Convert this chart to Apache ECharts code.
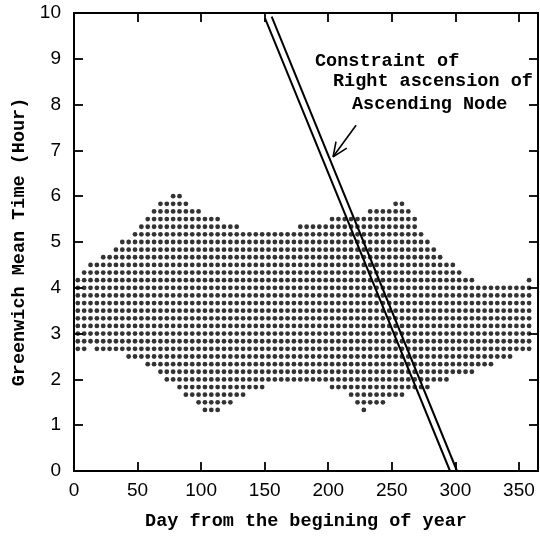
<!DOCTYPE html>
<html>
<head>
<meta charset="utf-8">
<script src="https://cdn.jsdelivr.net/npm/echarts@6/dist/echarts.min.js"></script>
<style>
html,body{margin:0;padding:0;background:#fff;}
#chart{width:540px;height:537px;}
</style>
</head>
<body>
<div id="chart"></div>
<script>
// Column days (sampling every ~5 days)
var colDays = [3,8,13,18,23,28,33,38,43,48,53,58,63,68,73,78,83,88,93,98,
  103,108,113,118,123,128,133,138,143,148,153,158,163,168,173,178,183,188,193,198,
  203,208,213,218,223,228,233,238,243,248,253,258,263,268,273,278,283,288,293,298,
  303,308,313,318,323,328,333,338,343,348,353,358];
// Upper edge of the feasible window per column, in minutes GMT
var hiMin = [250,260,270,270,280,280,290,300,300,310,320,330,340,350,350,360,360,350,340,340,
  330,330,330,320,320,320,310,310,310,310,310,310,310,310,310,320,320,320,320,320,
  330,330,330,330,330,330,340,340,340,340,350,350,340,330,310,300,290,280,270,270,
  260,250,250,240,240,240,240,240,240,240,240,250];
// Lower edge of the feasible window per column, in minutes GMT
var loMin = [160,160,170,160,160,160,160,160,150,150,150,140,140,130,120,120,110,100,100,90,
  80,80,80,90,90,100,100,110,110,110,120,120,120,120,120,120,120,120,120,120,
  110,110,110,100,90,80,90,90,90,100,100,100,110,110,110,110,120,120,120,130,
  130,130,130,140,140,140,150,150,150,160,160,160];
var stepMin = 10;
// Constraint lines (day, hour)
var lineA = [[150.3, 9.88], [295.8, 0]];
var lineB = [[155.5, 9.92], [301.3, 0]];
// Arrow (day, hour)
var arrowShaft = [[221.9, 7.55], [203.8, 6.86]];
var arrowHead = [[206.1, 7.19], [203.8, 6.86], [214.6, 7.05]];
var xTicks = [0,50,100,150,200,250,300,350];
var annotation = ['Constraint of', 'Right ascension of', 'Ascending Node'];

var dots = [];
for (var i = 0; i < colDays.length; i++) {
  for (var m = loMin[i]; m <= hiMin[i]; m += stepMin) {
    dots.push([colDays[i], m / 60]);
  }
}

var titleFont = 'Liberation Mono';
var chart = echarts.init(document.getElementById('chart'), null, {renderer: 'canvas'});
var axisLineStyle = {color: '#000', width: 2};
var tickStyle = {color: '#000', width: 1.8};
var option = {
  animation: false,
  backgroundColor: '#fff',
  grid: {left: 74, right: 2, top: 13, bottom: 66, containLabel: false},
  xAxis: [{
    type: 'value', min: 0, max: 365, interval: 50,
    name: 'Day from the begining of year', nameLocation: 'middle', nameGap: 41,
    nameTextStyle: {fontFamily: titleFont, fontWeight: 'bold', fontSize: 18.5, color: '#000'},
    axisLine: {show: true, onZero: false, lineStyle: axisLineStyle},
    axisTick: {show: true, inside: true, length: 9, lineStyle: tickStyle},
    axisLabel: {color: '#000', fontFamily: 'Liberation Sans', fontSize: 19, margin: 10,
      showMaxLabel: false,
      formatter: function (v) { return xTicks.indexOf(v) >= 0 ? String(v) : ''; }},
    splitLine: {show: false}
  }, {
    type: 'value', min: 0, max: 365, interval: 50, position: 'top',
    axisLine: {show: true, onZero: false, lineStyle: axisLineStyle},
    axisTick: {show: true, inside: true, length: 9, lineStyle: tickStyle},
    axisLabel: {show: false}, splitLine: {show: false}
  }],
  yAxis: [{
    type: 'value', min: 0, max: 10, interval: 1,
    name: 'Greenwich Mean Time (Hour)', nameLocation: 'middle', nameGap: 43, nameRotate: 90,
    nameTextStyle: {fontFamily: titleFont, fontWeight: 'bold', fontSize: 18.5, color: '#000'},
    axisLine: {show: true, onZero: false, lineStyle: axisLineStyle},
    axisTick: {show: true, inside: true, length: 9, lineStyle: tickStyle},
    axisLabel: {color: '#000', fontFamily: 'Liberation Sans', fontSize: 19, margin: 13},
    splitLine: {show: false}
  }, {
    type: 'value', min: 0, max: 10, interval: 1, position: 'right',
    axisLine: {show: true, onZero: false, lineStyle: axisLineStyle},
    axisTick: {show: true, inside: true, length: 9, lineStyle: tickStyle},
    axisLabel: {show: false}, splitLine: {show: false}
  }],
  series: [{
    type: 'scatter', data: dots, symbol: 'circle', symbolSize: 4.8,
    itemStyle: {color: '#000'}, silent: true
  }, {
    type: 'line', data: lineA, showSymbol: false, symbol: 'none',
    lineStyle: {color: '#000', width: 2}, silent: true
  }, {
    type: 'line', data: lineB, showSymbol: false, symbol: 'none',
    lineStyle: {color: '#000', width: 2}, silent: true
  }, {
    type: 'line', data: arrowShaft, showSymbol: false, symbol: 'none',
    lineStyle: {color: '#000', width: 1.6}, silent: true
  }, {
    type: 'line', data: arrowHead, showSymbol: false, symbol: 'none',
    lineStyle: {color: '#000', width: 1.6}, silent: true
  }],
  graphic: [
    {type: 'text', x: 315, y: 61, style: {text: annotation[0], fill: '#000',
      font: 'bold 18.5px "Liberation Mono"', textVerticalAlign: 'middle'}},
    {type: 'text', x: 333, y: 81, style: {text: annotation[1], fill: '#000',
      font: 'bold 18.5px "Liberation Mono"', textVerticalAlign: 'middle'}},
    {type: 'text', x: 352, y: 104, style: {text: annotation[2], fill: '#000',
      font: 'bold 18.5px "Liberation Mono"', textVerticalAlign: 'middle'}}
  ]
};
chart.setOption(option);
</script>
</body>
</html>
